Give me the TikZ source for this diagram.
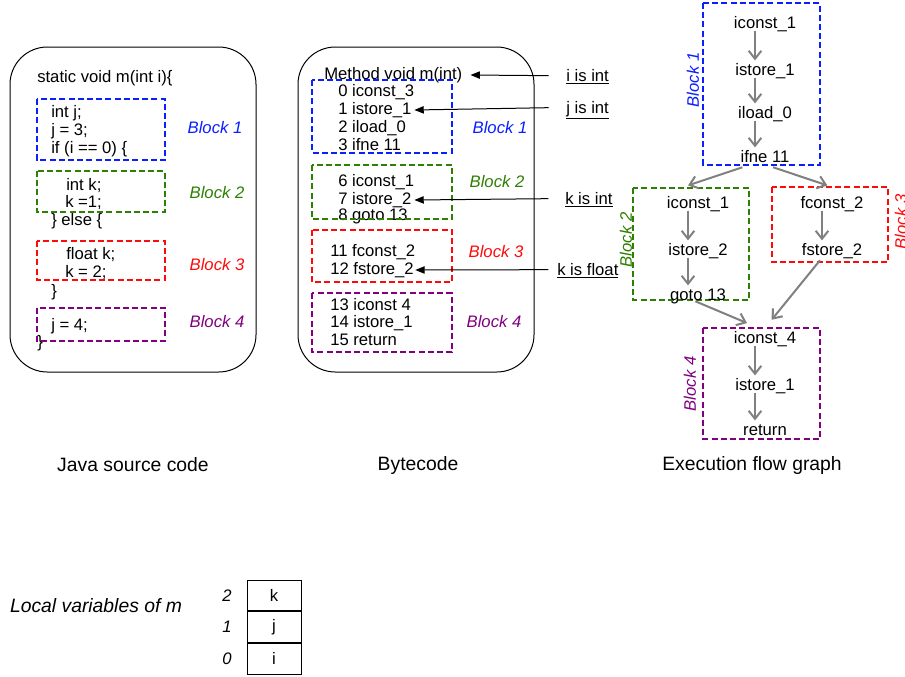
\documentclass[tikz,border=0pt]{standalone}
\usepackage{fontspec}
\setmainfont{Liberation Sans}
\usepackage{xcolor}
\usetikzlibrary{arrows.meta,positioning}
\definecolor{blkblue}{RGB}{10,30,255}
\definecolor{blkgreen}{RGB}{45,128,0}
\definecolor{blkred}{RGB}{255,10,10}
\definecolor{blkpurple}{RGB}{128,0,128}
\newcommand{\diafont}{\fontsize{12.5}{15}\selectfont}
\newcommand{\capfont}{\fontsize{14.5}{17}\selectfont}
\tikzset{
  panel/.style={draw, line width=0.75pt, rounded corners=28pt},
  blk/.style={draw, line width=1.5pt, dash pattern=on 4.5pt off 2.4pt},
  code/.style={anchor=west, inner sep=0pt, text height=9pt, text depth=2.5pt},
  blabel/.style={font=\diafont\itshape},
  caption/.style={font=\capfont},
  op/.style={inner sep=1pt, text height=9pt, text depth=2.5pt},
  flow/.style={-{Straight Barb[length=6pt,width=9.5pt]}, draw=gray, line width=1.5pt},
  note/.style={-{Triangle[length=7pt,width=5.5pt]}, line width=0.75pt},
  cell/.style={draw, line width=0.75pt, minimum width=40.5pt, minimum height=23pt, inner sep=0pt},
  idx/.style={font=\diafont\itshape, inner sep=0pt}
}
\begin{document}
\begin{tikzpicture}[x=0.75pt,y=-0.75pt,font=\diafont]
  \useasboundingbox (0,0) rectangle (905,676);
  % Java source code
  \draw[panel] (10,47) rectangle (256,372);
  \foreach \x/\y/\t [count=\i] in {37/78/{static void m(int i)\{}, 51/113/{int j;},
      51/131/{j = 3;}, 51/149/{if (i == 0) \{}, 66/186/{int k;}, 65/203/{k =1;},
      51/221/{\} else \{}, 66/255/{float k;}, 65/273/{k = 2;}, 51/292/{\}},
      51/326/{j = 4;}, 37/343/{\}}}
    \node[code] (java\i) at (\x,\y) {\t};
  \draw[blk, blkblue] (37,99) rectangle (165,160);
  \draw[blk, blkgreen] (37,171) rectangle (165,212);
  \draw[blk, blkred] (37,241) rectangle (165,280);
  \draw[blk, blkpurple] (37,308) rectangle (165,341);
  \node[blabel, text=blkblue] (jb1) at (215,128) {Block 1};
  \node[blabel, text=blkgreen] (jb2) at (217,193) {Block 2};
  \node[blabel, text=blkred] (jb3) at (217,265) {Block 3};
  \node[blabel, text=blkpurple] (jb4) at (217,322) {Block 4};
  \node[caption] (cap1) at (133,465) {Java source code};

  % Bytecode
  \draw[panel] (298,47) rectangle (534,372);
  \node[code] (meth) at (324,75) {Method void m(int)};
  \foreach \x/\y/\t [count=\i] in {338/92/{0 iconst\_3}, 338/110/{1 istore\_1},
      338/128/{2 iload\_0}, 338/146/{3 ifne 11}, 338/182/{6 iconst\_1},
      338/200/{7 istore\_2}, 338/216/{8 goto 13}, 330/252/{11 fconst\_2},
      330/270/{12 fstore\_2}, 330/306/{13 iconst 4}, 330/323/{14 istore\_1},
      330/341/{15 return}}
    \node[code] (bc\i) at (\x,\y) {\t};
  \draw[blk, blkblue] (312,80) rectangle (452,153);
  \draw[blk, blkgreen] (312,165) rectangle (452,219);
  \draw[blk, blkred] (312,230) rectangle (452,282);
  \draw[blk, blkpurple] (312,293) rectangle (452,352);
  \node[blabel, text=blkblue] (bb1) at (500,128) {Block 1};
  \node[blabel, text=blkgreen] (bb2) at (497,182) {Block 2};
  \node[blabel, text=blkred] (bb3) at (496,252) {Block 3};
  \node[blabel, text=blkpurple] (bb4) at (494,322) {Block 4};
  \node[caption] (cap2) at (418,465) {Bytecode};

  % type notes
  \node[code] (iint) at (566,77) {\underline{i is int}};
  \node[code] (jint) at (566,109) {\underline{j is int}};
  \node[code] (kint) at (565,200) {\underline{k is int}};
  \node[code] (kfloat) at (557,271) {\underline{k is float}};
  \draw[note] ([xshift=-13pt,yshift=1pt]iint.west) -- ([xshift=6pt]meth.east);
  \draw[note] ([xshift=-13pt,yshift=1pt]jint.west) -- ([xshift=2pt]bc2.east);
  \draw[note] ([xshift=-12.5pt,yshift=1pt]kint.west) -- ([xshift=2pt]bc6.east);
  \draw[note] ([xshift=-6.5pt,yshift=1pt]kfloat.west) -- ([xshift=1pt]bc9.east);

  % Execution flow graph
  \draw[blk, blkblue] (703,3) rectangle (820,165);
  \draw[blk, blkgreen] (633,188) rectangle (749,300);
  \draw[blk, blkred] (772,187) rectangle (888,262);
  \draw[blk, blkpurple] (703,328) rectangle (820,439);
  \node[op] (a1) at (765,24) {iconst\_1};
  \node[op] (a2) at (765,71) {istore\_1};
  \node[op] (a3) at (765,114) {iload\_0};
  \node[op] (a4) at (765,158) {ifne 11};
  \node[op] (b1) at (698,204) {iconst\_1};
  \node[op] (b2) at (698,251) {istore\_2};
  \node[op] (b3) at (698,296) {goto 13};
  \node[op] (c1) at (832,204) {fconst\_2};
  \node[op] (c2) at (832,251) {fstore\_2};
  \node[op] (d1) at (765,339) {iconst\_4};
  \node[op] (d2) at (765,386) {istore\_1};
  \node[op] (d3) at (765,431) {return};
  \foreach \s/\t in {a1/a2,a2/a3,a3/a4,b1/b2,b2/b3,c1/c2,d1/d2,d2/d3}
    \draw[flow, shorten >=1pt] ([xshift=-7.5pt,yshift=2pt]\s.south) -- ([xshift=-7.5pt]\t.north);
  \draw[flow] ([xshift=-17pt]a4.south) -- ([xshift=-7.5pt,yshift=7pt]b1.north);
  \draw[flow] ([xshift=6pt]a4.south) -- ([xshift=-3.5pt,yshift=7pt]c1.north);
  \draw[flow] ([xshift=-2pt,yshift=3pt]b3.south) -- ([xshift=-13.5pt,yshift=5pt]d1.north);
  \draw[flow] ([xshift=-9pt]c2.south) -- ([xshift=5pt,yshift=7.5pt]d1.north);
  \node[blabel, text=blkblue, rotate=90] (fb1) at (693,80) {Block 1};
  \node[blabel, text=blkgreen, rotate=90] (fb2) at (626,240) {Block 2};
  \node[blabel, text=blkred, rotate=90] (fb3) at (901,222) {Block 3};
  \node[blabel, text=blkpurple, rotate=90] (fb4) at (690,384) {Block 4};
  \node[caption] (cap3) at (752,465) {Execution flow graph};

  % local variables
  \node[caption, font=\capfont\itshape] (locvar) at (96,606) {Local variables of m};
  \node[cell] (vk) at (274,595.5) {k};
  \node[cell, below=0pt of vk] (vj) {j};
  \node[cell, below=0pt of vj] (vi) {i};
  \node[idx, left=11pt of vk] (n2) {2};
  \node[idx, left=11pt of vj] (n1) {1};
  \node[idx, left=11pt of vi] (n0) {0};
\end{tikzpicture}
\end{document}
